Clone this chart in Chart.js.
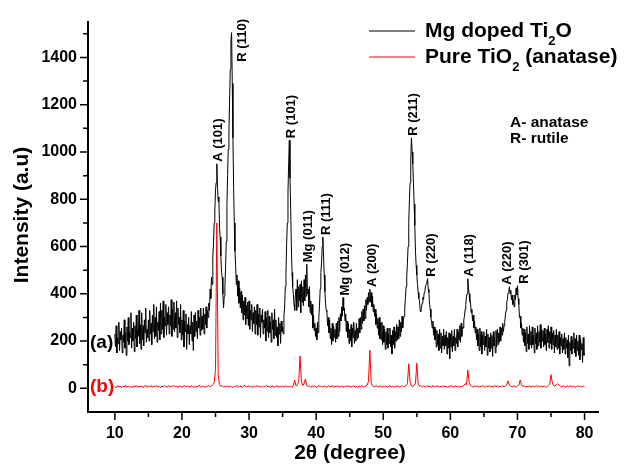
<!DOCTYPE html>
<html>
<head>
<meta charset="utf-8">
<title>XRD patterns</title>
<script src="https://cdn.jsdelivr.net/npm/chart.js@4.4.1/dist/chart.umd.min.js"></script>
<style>
  html, body { margin: 0; padding: 0; background: #fff; }
  canvas { display: block; }
</style>
</head>
<body>
<canvas id="xrd" width="630" height="465"></canvas>
<script>
// both scans start at 10 deg (2theta)
const scanStart = 10;
const dopedStep = 0.1;
const pureStep = 0.2;

// (a) Mg doped sample, one row per degree
const dopedIntensity = [
  230, 175, 265, 150, 215, 190, 280, 160, 240, 205,
  255, 150, 225, 195, 290, 170, 235, 140, 260, 200,
  300, 185, 240, 215, 320, 170, 255, 200, 280, 155,
  265, 210, 310, 175, 245, 220, 330, 190, 270, 165,
  320, 205, 265, 180, 290, 235, 340, 195, 250, 215,
  290, 200, 330, 230, 275, 185, 310, 240, 355, 210,
  300, 220, 345, 195, 280, 245, 325, 205, 360, 230,
  330, 250, 370, 215, 300, 265, 355, 225, 320, 270,
  345, 230, 310, 265, 375, 220, 335, 250, 365, 240,
  320, 255, 370, 215, 340, 270, 300, 235, 355, 205,
  290, 225, 330, 175, 285, 240, 315, 165, 270, 230,
  300, 185, 265, 230, 325, 200, 280, 160, 310, 220,
  320, 240, 285, 210, 330, 255, 300, 225, 340, 245,
  305, 250, 340, 230, 315, 270, 345, 255, 330, 300,
  360, 330, 420, 380, 470, 440, 560, 610, 700, 750,
  840, 870, 950, 850, 790, 810, 680, 640, 560, 490,
  470, 400, 340, 390, 430, 510, 620, 770, 900, 1010,
  1080, 1220, 1350, 1470, 1505, 1290, 1060, 850, 700, 580,
  520, 440, 480, 390, 455, 360, 425, 340, 410, 320,
  395, 290, 370, 310, 385, 270, 350, 295, 365, 265,
  370, 250, 330, 290, 355, 240, 320, 275, 345, 230,
  330, 270, 355, 225, 315, 260, 340, 215, 310, 280,
  335, 230, 290, 255, 325, 200, 300, 240, 330, 215,
  305, 235, 280, 195, 320, 250, 290, 210, 335, 225,
  290, 215, 260, 180, 300, 230, 275, 190, 285, 240,
  260, 230, 310, 340, 430, 490, 610, 700, 830, 950,
  1050, 890, 760, 610, 490, 430, 400, 355, 330, 395,
  420, 330, 460, 345, 430, 370, 440, 320, 455, 365,
  430, 350, 460, 370, 480, 390, 525, 400, 420, 345,
  430, 320, 370, 310, 355, 255, 310, 245, 275, 220,
  255, 205, 280, 235, 300, 350, 420, 490, 530, 600,
  640, 560, 480, 410, 360, 330, 325, 265, 300, 235,
  290, 210, 255, 185, 275, 200, 265, 215, 250, 195,
  275, 210, 285, 220, 300, 240, 315, 285, 345, 305,
  384, 330, 340, 285, 315, 240, 285, 215, 275, 190,
  250, 200, 270, 175, 255, 215, 280, 190, 245, 200,
  275, 210, 255, 215, 295, 235, 300, 250, 325, 275,
  335, 285, 350, 295, 375, 330, 385, 355, 405, 365,
  420, 365, 405, 345, 390, 325, 355, 305, 335, 270,
  315, 255, 295, 225, 300, 210, 275, 205, 280, 185,
  265, 195, 250, 165, 240, 185, 255, 170, 230, 190,
  255, 175, 225, 145, 245, 185, 260, 170, 240, 200,
  270, 205, 260, 210, 290, 220, 280, 240, 305, 255,
  290, 305, 340, 380, 430, 475, 530, 600, 700, 800,
  870, 970, 1060, 1000, 950, 870, 780, 690, 580, 520,
  480, 440, 405, 380, 370, 330, 325, 345, 360, 385,
  375, 405, 410, 435, 440, 450, 464, 420, 405, 355,
  335, 300, 280, 255, 285, 225, 260, 205, 250, 175,
  245, 185, 230, 160, 250, 170, 235, 150, 220, 180,
  250, 165, 225, 180, 240, 145, 215, 170, 235, 125,
  230, 175, 245, 155, 220, 180, 250, 160, 215, 190,
  250, 175, 240, 205, 265, 195, 275, 220, 260, 255,
  290, 305, 335, 355, 390, 400, 464, 425, 400, 365,
  365, 320, 335, 285, 310, 255, 285, 235, 260, 205,
  250, 180, 230, 160, 255, 175, 240, 145, 225, 185,
  240, 160, 220, 175, 250, 140, 230, 170, 215, 155,
  235, 170, 225, 135, 240, 180, 215, 150, 245, 175,
  250, 185, 235, 195, 260, 200, 255, 225, 275, 240,
  265, 280, 310, 330, 365, 375, 405, 410, 430, 400,
  415, 375, 395, 355, 375, 345, 395, 375, 425, 395,
  434, 380, 355, 300, 305, 255, 275, 225, 255, 195,
  250, 180, 235, 155, 260, 190, 230, 165, 265, 185,
  240, 170, 260, 185, 225, 150, 255, 190, 235, 165,
  265, 180, 240, 195, 270, 170, 250, 200, 245, 175,
  255, 185, 230, 160, 250, 195, 265, 170, 240, 190,
  260, 165, 235, 185, 245, 150, 225, 175, 250, 165,
  225, 170, 240, 145, 215, 180, 230, 150, 210, 165,
  235, 145, 215, 170, 205, 130, 225, 95, 195, 160,
  220, 145, 205, 170, 235, 150, 210, 135, 225, 160,
  200, 140, 225, 120, 210, 165, 190, 110, 215, 140,
  150
];

// (b) pure anatase TiO2, one row per degree
const pureIntensity = [
  8, 2, 12, 5, 10,
  3, 9, 6, 13, 4,
  10, 5, 8, 2, 11,
  6, 12, 4, 9, 7,
  11, 3, 8, 14, 5,
  9, 6, 12, 4, 10,
  7, 13, 5, 9, 3,
  10, 6, 11, 8, 4,
  12, 5, 9, 7, 13,
  6, 10, 3, 11, 8,
  5, 9, 12, 6, 10,
  8, 4, 11, 7, 3,
  10, 6, 9, 13, 5,
  7, 11, 4, 9, 8,
  12, 6, 10, 15, 25,
  80, 700, 55, 15, 8,
  12, 5, 9, 6, 11,
  4, 10, 7, 3, 9,
  6, 12, 5, 8, 10,
  4, 9, 13, 6, 8,
  11, 5, 8, 3, 10,
  7, 12, 6, 9, 4,
  10, 5, 8, 12, 6,
  9, 3, 11, 7, 5,
  8, 12, 4, 10, 6,
  9, 5, 11, 7, 8,
  6, 10, 4, 12, 35,
  10, 15, 28, 137, 30,
  12, 20, 40, 12, 8,
  10, 5, 9, 6, 11,
  4, 8, 12, 6, 9,
  5, 10, 7, 3, 11,
  8, 6, 12, 4, 9,
  7, 11, 5, 8, 10,
  4, 9, 6, 12, 7,
  10, 5, 8, 11, 6,
  9, 3, 10, 7, 12,
  5, 8, 11, 14, 30,
  162, 25, 10, 6, 9,
  12, 5, 8, 10, 4,
  9, 7, 11, 5, 8,
  12, 6, 9, 4, 10,
  7, 11, 5, 8, 12,
  6, 9, 12, 20, 104,
  25, 10, 8, 12, 22,
  106, 20, 9, 12, 6,
  10, 5, 8, 11, 7,
  9, 4, 12, 6, 10,
  8, 11, 5, 9, 7,
  12, 6, 10, 4, 8,
  9, 11, 7, 5, 12,
  6, 9, 4, 10, 8,
  12, 20, 15, 78, 25,
  12, 8, 5, 10, 7,
  11, 4, 9, 6, 12,
  8, 5, 10, 7, 11,
  6, 9, 4, 12, 8,
  10, 5, 9, 7, 11,
  6, 10, 15, 32, 14,
  9, 6, 11, 8, 5,
  10, 14, 35, 15, 8,
  12, 5, 9, 7, 11,
  4, 10, 8, 6, 12,
  7, 11, 5, 9, 6,
  10, 4, 8, 12, 18,
  58, 22, 12, 9, 16,
  20, 14, 10, 6, 11,
  8, 5, 12, 7, 9,
  11, 6, 10, 4, 8,
  12, 7, 9, 5, 10,
  6
];

// reflections marked on pattern (a)
const peakNames = ['A (101)', 'R (110)', 'R (101)', 'Mg (011)', 'R (111)', 'Mg (012)',
  'A (200)', 'R (211)', 'R (220)', 'A (118)', 'A (220)', 'R (301)'];
const peakAngles = [25.2, 27.4, 36.0, 38.6, 41.0, 44.0, 48.0, 54.2, 56.6, 62.6, 68.8, 70.0];

const yTickLabels = [0, 200, 400, 600, 800, 1000, 1200, 1400];
const xTickLabels = [10, 20, 30, 40, 50, 60, 70, 80];

const FONT = "'Liberation Sans', Arial, sans-serif";

function toPoints(values, step) {
  return values.map((v, i) => ({ x: +(scanStart + i * step).toFixed(1), y: v }));
}

function angleToIndex(angle, step) {
  return Math.round((angle - scanStart) / step);
}

// tweaks so labels sit where they read best
const labelShift = {
  'R (110)': [11, 31],
  'R (111)': [4, 0],
  'R (220)': [4, 0],
  'A (200)': [3, 0],
  'A (220)': [-2, 0],
  'R (301)': [6.5, 0]
};

const decorations = {
  id: 'decorations',
  afterDraw(chart) {
    const { ctx, scales: { x, y } } = chart;
    ctx.save();

    // outward tick marks, long on labelled values
    ctx.strokeStyle = '#000';
    ctx.lineWidth = 1.5;
    ctx.beginPath();
    x.ticks.forEach(t => {
      const px = x.getPixelForValue(t.value);
      const len = xTickLabels.includes(t.value) ? 8 : 5;
      ctx.moveTo(px, y.bottom);
      ctx.lineTo(px, y.bottom + len);
    });
    y.ticks.forEach(t => {
      if (t.value < 0) return;
      const py = y.getPixelForValue(t.value);
      const len = yTickLabels.includes(t.value) ? 8 : 5;
      ctx.moveTo(x.left - len, py);
      ctx.lineTo(x.left, py);
    });
    ctx.stroke();

    // reflection labels, rotated, standing on the peaks
    ctx.fillStyle = '#000';
    ctx.font = 'bold 13px ' + FONT;
    ctx.textAlign = 'left';
    ctx.textBaseline = 'middle';
    peakNames.forEach((name, i) => {
      const val = dopedIntensity[angleToIndex(peakAngles[i], dopedStep)];
      const shift = labelShift[name] || [2, 0];
      const px = x.getPixelForValue(peakAngles[i]) + shift[0];
      const py = y.getPixelForValue(val) - 2 + shift[1];
      ctx.save();
      ctx.translate(px, py);
      ctx.rotate(-Math.PI / 2);
      ctx.fillText(name, 0, 0);
      ctx.restore();
    });

    // axis titles
    ctx.font = 'bold 21px ' + FONT;
    ctx.textAlign = 'center';
    ctx.textBaseline = 'middle';
    ctx.fillText('2\u03b8 (degree)', 350, 453);
    ctx.save();
    ctx.translate(22, 215);
    ctx.rotate(-Math.PI / 2);
    ctx.fillText('Intensity (a.u)', 0, 0);
    ctx.restore();

    // pattern tags
    ctx.font = 'bold 19px ' + FONT;
    ctx.textAlign = 'left';
    ctx.fillStyle = '#000';
    ctx.fillText('(a)', 90, 343);
    ctx.fillStyle = '#ff0000';
    ctx.fillText('(b)', 90, 387);

    // phase key
    ctx.fillStyle = '#000';
    ctx.font = 'bold 15.5px ' + FONT;
    ctx.textBaseline = 'alphabetic';
    ctx.fillText('A- anatase', 510, 127);
    ctx.fillText('R- rutile', 510, 143);

    // legend with subscripts
    const legend = [
      { color: '#000', parts: ['Mg doped Ti', '2', 'O'], y: 31 },
      { color: '#ff0000', parts: ['Pure TiO', '2', ' (anatase)'], y: 57 }
    ];
    legend.forEach(item => {
      ctx.strokeStyle = item.color;
      ctx.lineWidth = 1;
      ctx.beginPath();
      ctx.moveTo(369, item.y);
      ctx.lineTo(415, item.y);
      ctx.stroke();
      ctx.fillStyle = '#000';
      let tx = 425;
      const base = item.y + 6;
      item.parts.forEach((p, k) => {
        const sub = k === 1;
        ctx.font = 'bold ' + (sub ? 13 : 21) + 'px ' + FONT;
        ctx.fillText(p, tx, sub ? base + 8 : base);
        tx += ctx.measureText(p).width;
      });
    });

    ctx.restore();
  }
};

new Chart(document.getElementById('xrd'), {
  type: 'line',
  data: {
    datasets: [
      {
        label: 'Mg doped Ti2O',
        data: toPoints(dopedIntensity, dopedStep),
        borderColor: '#000',
        borderWidth: 1,
        pointRadius: 0,
        tension: 0,
        order: 1
      },
      {
        label: 'Pure TiO2 (anatase)',
        data: toPoints(pureIntensity, pureStep),
        borderColor: '#ff0000',
        borderWidth: 1,
        pointRadius: 0,
        tension: 0,
        order: 0
      }
    ]
  },
  options: {
    responsive: false,
    animation: false,
    layout: { padding: { left: 0, top: 22, right: 32, bottom: 0 } },
    plugins: {
      legend: { display: false },
      tooltip: { enabled: false }
    },
    scales: {
      x: {
        type: 'linear',
        min: 6,
        max: 82,
        afterFit(scale) { scale.height = 53; },
        grid: { display: false },
        border: { display: true, color: '#000', width: 2 },
        ticks: {
          stepSize: 5,
          includeBounds: false,
          autoSkip: false,
          maxRotation: 0,
          padding: 4,
          color: '#000',
          font: { family: FONT, size: 16, weight: 'bold' },
          callback: v => xTickLabels.includes(v) ? String(v) : ''
        }
      },
      y: {
        type: 'linear',
        min: -100,
        max: 1550,
        afterFit(scale) { scale.width = 88; },
        grid: { display: false },
        border: { display: true, color: '#000', width: 2 },
        ticks: {
          stepSize: 100,
          includeBounds: false,
          autoSkip: false,
          padding: 3,
          color: '#000',
          font: { family: FONT, size: 16, weight: 'bold' },
          callback: v => yTickLabels.includes(v) ? String(v) : ''
        }
      }
    }
  },
  plugins: [decorations]
});
</script>
</body>
</html>
